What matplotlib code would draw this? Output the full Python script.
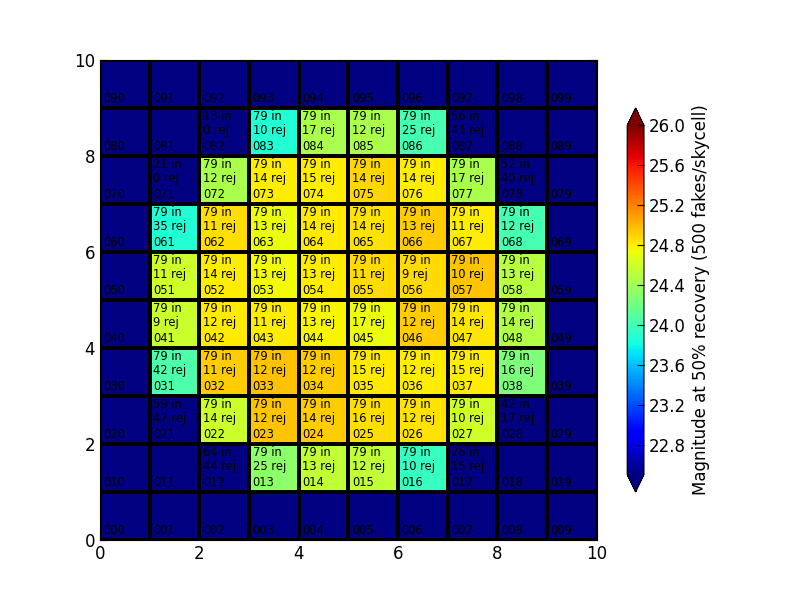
import numpy as np
import matplotlib
matplotlib.use("Agg")
import matplotlib.pyplot as plt

nan = np.nan

# magnitude at 50% recovery, rows = y (0..9), cols = x (0..9)
mag = [
    [nan] * 10,
    [nan, nan, nan, 24.33, 24.55, 24.55, 23.95, nan, nan, nan],
    [nan, nan, 24.58, 24.96, 24.93, 24.86, 24.84, 24.60, nan, nan],
    [nan, 24.05, 24.92, 24.97, 24.93, 24.82, 24.81, 24.81, 24.25, nan],
    [nan, 24.58, 24.82, 24.80, 24.78, 24.72, 24.93, 24.83, 24.48, nan],
    [nan, 24.60, 24.80, 24.75, 24.80, 24.87, 24.87, 24.95, 24.50, nan],
    [nan, 23.88, 24.86, 24.72, 24.82, 24.84, 24.92, 24.80, 24.02, nan],
    [nan, nan, 24.45, 24.80, 24.80, 24.88, 24.80, 24.45, nan, nan],
    [nan, nan, nan, 23.87, 24.45, 24.45, 24.02, nan, nan, nan],
    [nan] * 10,
]

# number of fakes in / rejected per skycell (None = no entry)
n_in = [
    [None] * 10,
    [None, None, 64, 79, 79, 79, 79, 26, None, None],
    [None, 59, 79, 79, 79, 79, 79, 79, 42, None],
    [None, 79, 79, 79, 79, 79, 79, 79, 79, None],
    [None, 79, 79, 79, 79, 79, 79, 79, 79, None],
    [None, 79, 79, 79, 79, 79, 79, 79, 79, None],
    [None, 79, 79, 79, 79, 79, 79, 79, 79, None],
    [None, 21, 79, 79, 79, 79, 79, 79, 52, None],
    [None, None, 13, 79, 79, 79, 79, 56, None, None],
    [None] * 10,
]
n_rej = [
    [None] * 10,
    [None, None, 44, 25, 13, 12, 10, 15, None, None],
    [None, 47, 14, 12, 14, 16, 12, 10, 17, None],
    [None, 42, 11, 12, 12, 15, 12, 15, 16, None],
    [None, 9, 12, 11, 13, 17, 12, 14, 14, None],
    [None, 11, 14, 13, 13, 11, 9, 10, 13, None],
    [None, 35, 11, 13, 14, 14, 13, 11, 12, None],
    [None, 0, 12, 14, 15, 14, 14, 17, 40, None],
    [None, None, 0, 10, 17, 12, 25, 41, None, None],
    [None] * 10,
]

cbar_ticks = [22.8, 23.2, 23.6, 24.0, 24.4, 24.8, 25.2, 25.6, 26.0]

fig = plt.figure(figsize=(8, 6), dpi=100)
ax = fig.add_axes([0.125, 0.1, 0.621, 0.8])

cmap = plt.get_cmap("jet").copy()
cmap.set_bad(cmap(0.0))
data = np.ma.masked_invalid(np.array(mag, dtype=float))
mesh = ax.pcolormesh(np.arange(11), np.arange(11), data, cmap=cmap,
                     vmin=22.5, vmax=26.0, edgecolors="k", linewidth=1.5)

for r in range(10):
    for c in range(10):
        ax.text(c + 0.07, r + 0.19, "0%d%d" % (r, c), fontsize=8.3,
                va="center", ha="left")
        if n_in[r][c] is not None:
            ax.text(c + 0.07, r + 0.83, "%d in" % n_in[r][c], fontsize=8.3,
                    va="center", ha="left")
            ax.text(c + 0.07, r + 0.54, "%d rej" % n_rej[r][c], fontsize=8.3,
                    va="center", ha="left")

ax.set_xlim(0, 10)
ax.set_ylim(0, 10)
ax.set_xticks([0, 2, 4, 6, 8, 10])
ax.set_yticks([0, 2, 4, 6, 8, 10])
ax.tick_params(direction="in", top=True, right=True, labelsize=12, length=5)

cax = fig.add_axes([0.784, 0.18, 0.021, 0.64])
cbar = fig.colorbar(mesh, cax=cax, extend="both", ticks=cbar_ticks)
cbar.ax.tick_params(direction="in", labelsize=12, length=5)
cbar.set_label("Magnitude at 50% recovery (500 fakes/skycell)", fontsize=12)

fig.savefig("out.png", dpi=100, facecolor="white")
